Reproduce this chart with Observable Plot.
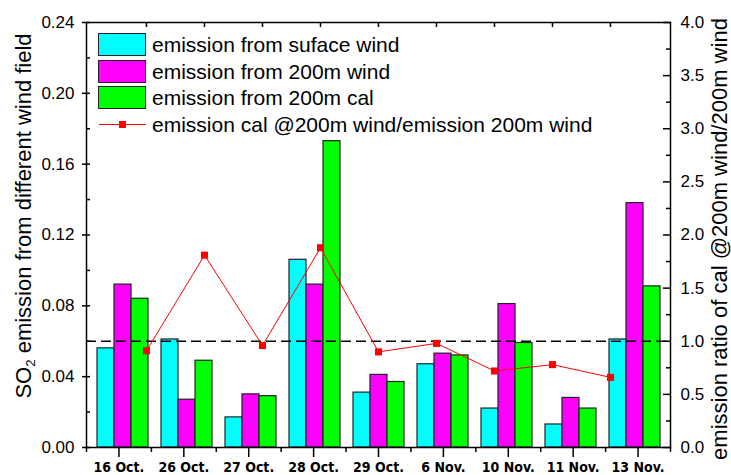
<!DOCTYPE html>
<html>
<head>
<meta charset="utf-8">
<script src="https://cdn.jsdelivr.net/npm/d3@7"></script>
<script src="https://cdn.jsdelivr.net/npm/@observablehq/plot@0.6"></script>
<style>
  body { margin: 0; background: #fff; }
  #chart { position: relative; width: 731px; height: 475px; overflow: hidden; background: #fff;
           font-family: "Liberation Sans", Arial, sans-serif; color: #000; }
  #chart svg { position: absolute; left: 0; top: 0; }
  .lg-sw { position: absolute; box-sizing: border-box; border: 1px solid #222; }
  .lg-tx { position: absolute; font-size: 21px; line-height: 1; white-space: nowrap; }
  .ytitle { position: absolute; white-space: nowrap; line-height: 1; transform: translate(-50%, -50%) rotate(-90deg); }
  .ytitle sub { font-size: 0.6em; vertical-align: -0.3em; line-height: 0; }
</style>
</head>
<body>
<div id="chart"></div>
<script>
// ---------- data ----------
const dates = ["16 Oct.", "26 Oct.", "27 Oct.", "28 Oct.", "29 Oct.", "6 Nov.", "10 Nov.", "11 Nov.", "13 Nov."];
const seriesNames = ["emission from suface wind", "emission from 200m wind", "emission from 200m cal"];
const surfaceWind = [0.056, 0.061, 0.017, 0.106, 0.031, 0.047, 0.022, 0.013, 0.061];
const wind200m    = [0.092, 0.027, 0.030, 0.092, 0.041, 0.053, 0.081, 0.028, 0.138];
const cal200m     = [0.084, 0.049, 0.029, 0.173, 0.037, 0.052, 0.059, 0.022, 0.091];
const ratio       = [0.91, 1.81, 0.96, 1.88, 0.90, 0.98, 0.72, 0.78, 0.66];
const ratioName = "emission cal @200m wind/emission 200m wind";
const leftTicks  = [0, 0.04, 0.08, 0.12, 0.16, 0.20, 0.24];
const leftMinor  = [0.02, 0.06, 0.10, 0.14, 0.18, 0.22];
const rightTicks = [0, 0.5, 1.0, 1.5, 2.0, 2.5, 3.0, 3.5, 4.0];
const rightMinor = [0.25, 0.75, 1.25, 1.75, 2.25, 2.75, 3.25, 3.75];
const refRatio = [1.0];
const leftTitle = "emission from different wind field";
const rightTitle = "emission ratio of cal @200m wind/200m wind";
const barColors = ["#00ffff", "#ff00ff", "#00ff00"];
const lineColor = "#ff0000";

// ---------- layout ----------
const W = 731, H = 475, ML = 86, MR = 61, MT = 22, MB = 28;
const fontFamily = "'Liberation Sans', Arial, sans-serif";
const baseStyle = { background: "transparent", fontFamily, fontSize: "17px", color: "black", overflow: "visible" };

const rows = dates.flatMap((d, i) =>
  [surfaceWind[i], wind200m[i], cal200m[i]].map((v, j) => ({ date: d, series: seriesNames[j], value: v })));
const lineRows = dates.map((d, i) => ({ date: d, ratio: ratio[i] }));

// Layer A: grouped bars + left axis
const A = Plot.plot({
  width: W, height: H, marginLeft: ML, marginRight: MR, marginTop: MT, marginBottom: MB,
  style: baseStyle,
  fx: { domain: dates, padding: 0, axis: null },
  x: { domain: seriesNames, paddingInner: 0, paddingOuter: 0.375, axis: null },
  y: { domain: [0, 0.24] },
  color: { domain: seriesNames, range: barColors },
  marks: [
    Plot.barY(rows, { fx: "date", x: "series", y: "value", fill: "series", stroke: "#222", strokeWidth: 1.2 }),
    Plot.axisY(leftTicks, { anchor: "left", tickSize: 8, tickPadding: 8, tickFormat: d3.format(".2f"),
                            label: null, strokeWidth: 1.5, fontSize: 17 }),
    Plot.axisY(leftMinor, { anchor: "left", tickSize: 4, fill: "none", label: null, strokeWidth: 1.5 })
  ]
});

// Layer B: frame, reference line, bottom axis, right axis
const idx = d3.range(dates.length);
const B = Plot.plot({
  width: W, height: H, marginLeft: ML, marginRight: MR, marginTop: MT, marginBottom: MB,
  style: baseStyle,
  x: { type: "linear", domain: [-0.5, dates.length - 0.5] },
  y: { domain: [0, 4] },
  marks: [
    Plot.ruleY(refRatio, { stroke: "black", strokeWidth: 1.5, strokeDasharray: "10,5" }),
    Plot.frame({ stroke: "black", strokeWidth: 1.5 }),
    Plot.axisX(idx, { anchor: "bottom", tickSize: 10, tickPadding: 5, tickFormat: i => dates[i],
                      label: null, strokeWidth: 1.5, fontSize: 14, fontWeight: "bold",
                      fontFamily: "'DejaVu Sans Condensed', 'DejaVu Sans', sans-serif" }),
    Plot.axisX(d3.range(dates.length + 1).map(i => i - 0.5),
               { anchor: "bottom", tickSize: 5, fill: "none", label: null, strokeWidth: 1.5 }),
    Plot.axisY(rightTicks, { anchor: "right", tickSize: -8, fill: "none", label: null, strokeWidth: 1.5 }),
    Plot.axisY(rightMinor, { anchor: "right", tickSize: -5, fill: "none", label: null, strokeWidth: 1.5 }),
    Plot.axisY(rightTicks, { anchor: "right", tickSize: 0, tickPadding: 10, tickFormat: d3.format(".1f"),
                             label: null, fontSize: 17 })
  ]
});

// Layer C: ratio line on its own top axis
const C = Plot.plot({
  width: W, height: H, marginLeft: 144, marginRight: 120, marginTop: MT, marginBottom: MB,
  style: baseStyle,
  x: { type: "point", domain: dates, padding: 0 },
  y: { domain: [0, 4], axis: null },
  marks: [
    Plot.axisX(dates, { anchor: "top", tickSize: -4, fill: "none", label: null, strokeWidth: 1.5 }),
    Plot.line(lineRows, { x: "date", y: "ratio", stroke: lineColor, strokeWidth: 1 }),
    Plot.dot(lineRows, { x: "date", y: "ratio", symbol: "square", r: 4, fill: lineColor, stroke: "none" })
  ]
});

const chart = document.getElementById("chart");
chart.append(A, B, C);

// Legend (HTML overlay)
const lgX = 98, lgY = 33, lgPitch = 26.5, swW = 48, swH = 23, txX = 152;
seriesNames.forEach((name, j) => {
  const sw = document.createElement("div");
  sw.className = "lg-sw";
  Object.assign(sw.style, { left: lgX + "px", top: (lgY + j * lgPitch) + "px", width: swW + "px", height: swH + "px", background: barColors[j] });
  chart.append(sw);
  const tx = document.createElement("div");
  tx.className = "lg-tx";
  tx.textContent = name;
  Object.assign(tx.style, { left: txX + "px", top: (lgY + j * lgPitch + swH / 2 - 10.5) + "px" });
  chart.append(tx);
});
{
  const cy = lgY + 3 * lgPitch + swH / 2;
  const ln = document.createElement("div");
  Object.assign(ln.style, { position: "absolute", left: (lgX + 1) + "px", top: (cy - 0.5) + "px", width: (swW - 1) + "px", height: "1px", background: lineColor });
  chart.append(ln);
  const mk = document.createElement("div");
  Object.assign(mk.style, { position: "absolute", left: (lgX + swW / 2 - 3.5) + "px", top: (cy - 3.5) + "px", width: "7px", height: "7px", background: lineColor });
  chart.append(mk);
  const tx = document.createElement("div");
  tx.className = "lg-tx";
  tx.textContent = ratioName;
  Object.assign(tx.style, { left: txX + "px", top: (cy - 10.5) + "px" });
  chart.append(tx);
}

// Axis titles
const lt = document.createElement("div");
lt.className = "ytitle";
lt.innerHTML = "SO<sub>2</sub> " + leftTitle;
Object.assign(lt.style, { left: "24px", top: "216px", fontSize: "22px" });
chart.append(lt);
const rt = document.createElement("div");
rt.className = "ytitle";
rt.textContent = rightTitle;
Object.assign(rt.style, { left: "720px", top: "239px", fontSize: "22px" });
chart.append(rt);
</script>
</body>
</html>
